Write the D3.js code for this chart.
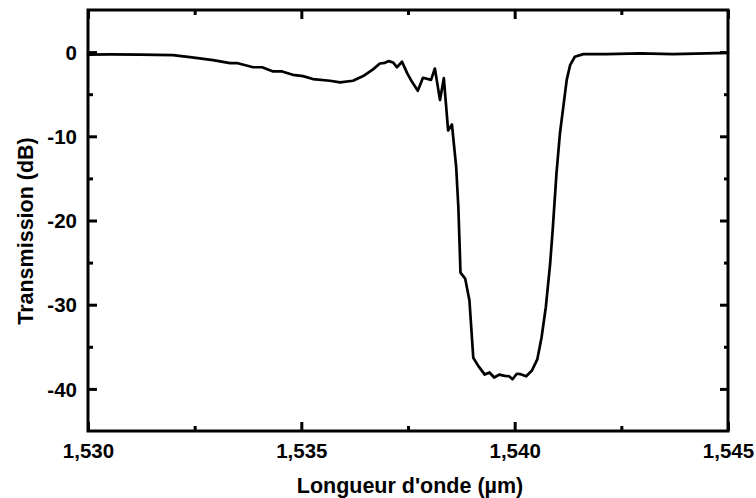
<!DOCTYPE html>
<html>
<head>
<meta charset="utf-8">
<script src="https://cdn.jsdelivr.net/npm/d3@7"></script>
<style>
  html, body { margin: 0; padding: 0; background: #fff; }
  svg { display: block; }
  text { font-family: "Liberation Sans", Arial, sans-serif; font-weight: bold; fill: #000; }
</style>
</head>
<body>
<script>
// ---- data (wavelength in µm, transmission in dB) ----
const wavelength = [
  1.53000, 1.53052, 1.53122, 1.53199, 1.53239, 1.53293, 1.53333, 1.53349,
  1.53387, 1.53408, 1.53434, 1.53455, 1.53480, 1.53504, 1.53527, 1.53567,
  1.53591, 1.53621, 1.53645, 1.53668, 1.53684, 1.53696, 1.53705, 1.53715,
  1.53724, 1.53736, 1.53748, 1.53759, 1.53773, 1.53785, 1.53804, 1.53813,
  1.53825, 1.53834, 1.53844, 1.53853, 1.53863, 1.53868, 1.53871, 1.53873,
  1.53884, 1.53894, 1.53903, 1.53915, 1.53930, 1.53941, 1.53952, 1.53964,
  1.53977, 1.53987, 1.53995, 1.54005, 1.54014, 1.54027, 1.54040, 1.54053,
  1.54063, 1.54073, 1.54083, 1.54089, 1.54098, 1.54106, 1.54114, 1.54122,
  1.54130, 1.54141, 1.54161, 1.54216, 1.54294, 1.54371, 1.54450, 1.54500
];
const transmission = [
  -0.30, -0.28, -0.30, -0.36, -0.60, -0.95, -1.30, -1.30,
  -1.80, -1.80, -2.30, -2.30, -2.70, -2.85, -3.20, -3.40,
  -3.60, -3.40, -2.85, -2.05, -1.35, -1.27, -1.07, -1.23,
  -1.80, -1.15, -2.50, -3.50, -4.60, -3.05, -3.30, -1.95,
  -5.70, -3.10, -9.30, -8.60, -13.7, -18.4, -23.0, -26.2,
  -26.9, -29.5, -36.3, -37.3, -38.3, -38.05, -38.65, -38.3,
  -38.45, -38.5, -38.85, -38.2, -38.25, -38.5, -37.85, -36.5,
  -33.9, -30.3, -25.2, -21.2, -14.4, -9.7, -6.5, -3.3,
  -1.55, -0.55, -0.24, -0.24, -0.16, -0.24, -0.16, -0.10
];
const xMajorTicks = [1.530, 1.535, 1.540, 1.545];
const xMinorTicks = [1.5325, 1.5375, 1.5425];
const yMajorTicks = [-40, -30, -20, -10, 0];
const yMinorTicks = [-35, -25, -15, -5];
const xTitle = "Longueur d'onde (µm)";
const yTitle = "Transmission (dB)";

// ---- layout ----
const W = 756, H = 498;
const m = { left: 88, right: 28, top: 10, bottom: 67 };
const iw = W - m.left - m.right, ih = H - m.top - m.bottom;

const loc = d3.formatLocale({ decimal: ",", thousands: " ", grouping: [3], currency: ["", ""], minus: "-" });
const fx = loc.format(".3f");
const fy = loc.format("d");

const x = d3.scaleLinear().domain([1.530, 1.545]).range([0, iw]);
const y = d3.scaleLinear().domain([-45, 5]).range([ih, 0]);

const svg = d3.select("body").append("svg").attr("width", W).attr("height", H);
const g = svg.append("g").attr("transform", `translate(${m.left},${m.top})`);

const MAJ = 9, MIN = 5, AXW = 3;

function styleAxis(sel) {
  sel.select(".domain").remove();
  sel.selectAll(".tick line").attr("stroke", "#000").attr("stroke-width", 3);
  sel.selectAll(".tick text").style("font-size", "20.5px");
}

// bottom
g.append("g").attr("transform", `translate(0,${ih})`)
  .call(d3.axisBottom(x).tickValues(xMajorTicks).tickSize(-MAJ).tickFormat(fx))
  .call(styleAxis)
  .call(s => s.selectAll(".tick text").attr("y", 27).attr("dy", "0"));
g.append("g").attr("transform", `translate(0,${ih})`)
  .call(d3.axisBottom(x).tickValues(xMinorTicks).tickSize(-MIN).tickFormat(""))
  .call(styleAxis);
// top
g.append("g")
  .call(d3.axisTop(x).tickValues(xMajorTicks).tickSize(-MAJ).tickFormat(""))
  .call(styleAxis);
g.append("g")
  .call(d3.axisTop(x).tickValues(xMinorTicks).tickSize(-MIN).tickFormat(""))
  .call(styleAxis);
// left
g.append("g")
  .call(d3.axisLeft(y).tickValues(yMajorTicks).tickSize(-MAJ).tickFormat(fy))
  .call(styleAxis)
  .call(s => s.selectAll(".tick text").attr("x", -11).attr("dy", "0.35em"));
g.append("g")
  .call(d3.axisLeft(y).tickValues(yMinorTicks).tickSize(-MIN).tickFormat(""))
  .call(styleAxis);
// right
g.append("g").attr("transform", `translate(${iw},0)`)
  .call(d3.axisRight(y).tickValues(yMajorTicks).tickSize(-8).tickFormat(""))
  .call(styleAxis);
g.append("g").attr("transform", `translate(${iw},0)`)
  .call(d3.axisRight(y).tickValues(yMinorTicks).tickSize(-4).tickFormat(""))
  .call(styleAxis);

// curve
const data = wavelength.map((w, i) => ({ w, t: transmission[i] }));
g.append("path").datum(data)
  .attr("fill", "none").attr("stroke", "#000").attr("stroke-width", 2.7)
  .attr("stroke-linejoin", "round").attr("stroke-linecap", "round")
  .attr("d", d3.line().x(d => x(d.w)).y(d => y(d.t)));

// frame
g.append("rect").attr("x", 0).attr("y", 0).attr("width", iw).attr("height", ih)
  .attr("fill", "none").attr("stroke", "#000").attr("stroke-width", AXW);

// titles
svg.append("text").attr("x", m.left + iw / 2 + 2).attr("y", 493)
  .attr("text-anchor", "middle").style("font-size", "21.5px").text(xTitle);
svg.append("text").attr("transform", `translate(33,231) rotate(-90)`)
  .attr("text-anchor", "middle").style("font-size", "21.5px").text(yTitle);
</script>
</body>
</html>
